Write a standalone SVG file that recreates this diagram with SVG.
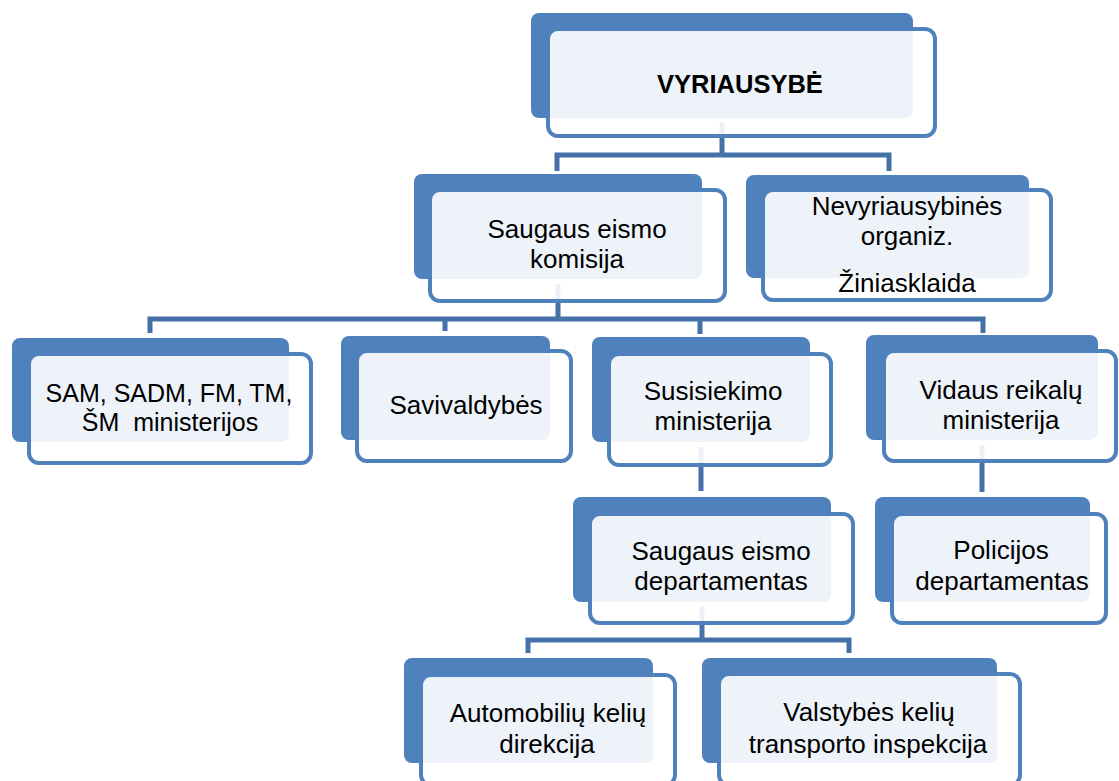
<svg xmlns="http://www.w3.org/2000/svg" width="1119" height="781" viewBox="0 0 1119 781">
<style>
.back{fill:#4f81bd}
.front{fill:#ffffff;fill-opacity:0.9;stroke:#4f81bd;stroke-width:4}
.conn{fill:none;stroke:#4571a9;stroke-width:5}
text{font-family:"Liberation Sans",Arial,sans-serif;font-size:26px;fill:#000;text-anchor:middle}
.b{font-weight:bold;font-size:25.5px}
.s{font-size:25px}
</style>
<rect width="1119" height="781" fill="#ffffff"/>
<g id="connectors">
<path class="conn" d="M722,123 V155 M557,171 V155 H889 V171"/>
<path class="conn" d="M558,284 V319 M150,333 V319 H983 V333 M445,319 V331 M700,319 V334"/>
<path class="conn" d="M701,447 V491"/>
<path class="conn" d="M982,445 V492"/>
<path class="conn" d="M702,607 V640 M528,653 V640 H849 V653"/>
</g>
<g id="n-vyriausybe">
<rect class="back" x="531" y="13" width="382" height="105" rx="8"/>
<rect class="front" x="548" y="29" width="387" height="107" rx="10"/>
<text class="b" x="740" y="93">VYRIAUSYBĖ</text>
</g>
<g id="n-komisija">
<rect class="back" x="414" y="174" width="288" height="105" rx="8"/>
<rect class="front" x="430" y="190" width="295" height="111" rx="10"/>
<text x="577" y="238">Saugaus eismo</text>
<text x="577" y="268">komisija</text>
</g>
<g id="n-nevyriausybines">
<rect class="back" x="746" y="175" width="283" height="103" rx="8"/>
<rect class="front" x="763" y="190" width="288" height="110" rx="10"/>
<text x="907" y="215">Nevyriausybinės</text>
<text x="907" y="245">organiz.</text>
<text x="907" y="292">Žiniasklaida</text>
</g>
<g id="n-sam">
<rect class="back" x="12" y="338" width="277" height="104" rx="8"/>
<rect class="front" x="29" y="354" width="282" height="109" rx="10"/>
<text class="s" x="169" y="402">SAM, SADM, FM, TM,</text>
<text class="s" x="170" y="431" xml:space="preserve">ŠM  ministerijos</text>
</g>
<g id="n-savivaldybes">
<rect class="back" x="341" y="336" width="209" height="104" rx="8"/>
<rect class="front" x="357" y="351" width="214" height="110" rx="10"/>
<text x="466" y="414">Savivaldybės</text>
</g>
<g id="n-susisiekimo">
<rect class="back" x="592" y="337" width="218" height="105" rx="8"/>
<rect class="front" x="609" y="354" width="222" height="111" rx="10"/>
<text x="713" y="400">Susisiekimo</text>
<text x="713" y="430">ministerija</text>
</g>
<g id="n-vidaus">
<rect class="back" x="866" y="335" width="232" height="105" rx="8"/>
<rect class="front" x="884" y="351" width="232" height="110" rx="10"/>
<text x="1001" y="399">Vidaus reikalų</text>
<text x="1001" y="429">ministerija</text>
</g>
<g id="n-departamentas">
<rect class="back" x="573" y="497" width="258" height="105" rx="8"/>
<rect class="front" x="590" y="514" width="263" height="109" rx="10"/>
<text x="721" y="560">Saugaus eismo</text>
<text x="721" y="590">departamentas</text>
</g>
<g id="n-policijos">
<rect class="back" x="875" y="497" width="215" height="105" rx="8"/>
<rect class="front" x="892" y="514" width="214" height="109" rx="10"/>
<text x="1001" y="559">Policijos</text>
<text x="1002" y="590">departamentas</text>
</g>
<g id="n-automobiliu">
<rect class="back" x="404" y="658" width="249" height="105" rx="8"/>
<rect class="front" x="421" y="675" width="254" height="110" rx="10"/>
<text x="548" y="722">Automobilių kelių</text>
<text x="547" y="753">direkcija</text>
</g>
<g id="n-valstybes">
<rect class="back" x="702" y="658" width="295" height="105" rx="8"/>
<rect class="front" x="719" y="674" width="301" height="111" rx="10"/>
<text x="869" y="721">Valstybės kelių</text>
<text x="868" y="753">transporto inspekcija</text>
</g>
</svg>
